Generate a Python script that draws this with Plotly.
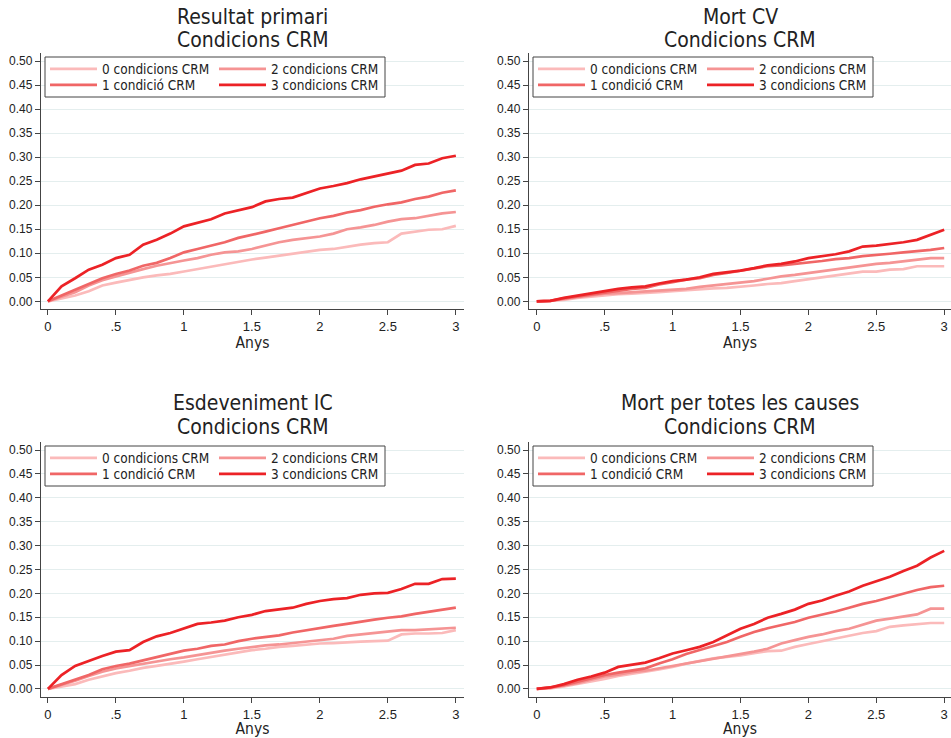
import plotly.graph_objects as go

# ---------------- data ----------------
anys = [0, 0.1, 0.2, 0.3, 0.4, 0.5, 0.6, 0.7, 0.8, 0.9, 1.0, 1.1, 1.2, 1.3, 1.4, 1.5,
        1.6, 1.7, 1.8, 1.9, 2.0, 2.1, 2.2, 2.3, 2.4, 2.5, 2.6, 2.7, 2.8, 2.9, 3.0]

series_labels = ["0 condicions CRM", "1 condició CRM", "2 condicions CRM", "3 condicions CRM"]
series_colors = ["#fbbaba", "#f06666", "#f59494", "#ec2226"]

title_line1 = ["Resultat primari", "Mort CV", "Esdeveniment IC", "Mort per totes les causes"]
title_line2 = ["Condicions CRM", "Condicions CRM", "Condicions CRM", "Condicions CRM"]

prim_0 = [0, 0.006, 0.012, 0.021, 0.033, 0.039, 0.045, 0.050, 0.054, 0.057, 0.062, 0.067, 0.073, 0.078, 0.083, 0.087,
          0.091, 0.095, 0.099, 0.104, 0.107, 0.109, 0.114, 0.118, 0.121, 0.123, 0.141, 0.145, 0.149, 0.150, 0.157]
prim_1 = [0, 0.012, 0.023, 0.035, 0.048, 0.057, 0.064, 0.074, 0.080, 0.090, 0.102, 0.109, 0.116, 0.123, 0.132, 0.138,
          0.145, 0.152, 0.159, 0.166, 0.173, 0.178, 0.185, 0.190, 0.197, 0.202, 0.206, 0.213, 0.218, 0.226, 0.231]
prim_2 = [0, 0.010, 0.019, 0.033, 0.044, 0.052, 0.060, 0.067, 0.074, 0.080, 0.085, 0.090, 0.097, 0.102, 0.104, 0.109,
          0.116, 0.123, 0.128, 0.132, 0.135, 0.141, 0.150, 0.154, 0.159, 0.166, 0.171, 0.173, 0.178, 0.183, 0.186]
prim_3 = [0, 0.031, 0.048, 0.066, 0.076, 0.090, 0.097, 0.118, 0.128, 0.141, 0.156, 0.164, 0.171, 0.183, 0.190, 0.196,
          0.208, 0.213, 0.216, 0.225, 0.235, 0.240, 0.246, 0.254, 0.260, 0.265, 0.272, 0.284, 0.287, 0.298, 0.303]

cv_0 = [0, 0.001, 0.003, 0.007, 0.010, 0.012, 0.015, 0.016, 0.017, 0.019, 0.021, 0.023, 0.026, 0.027, 0.028, 0.030,
        0.033, 0.036, 0.038, 0.042, 0.046, 0.050, 0.055, 0.059, 0.062, 0.062, 0.066, 0.067, 0.073, 0.073, 0.073]
cv_1 = [0, 0.001, 0.006, 0.010, 0.015, 0.019, 0.023, 0.026, 0.028, 0.035, 0.040, 0.045, 0.048, 0.055, 0.059, 0.064,
        0.068, 0.073, 0.075, 0.078, 0.080, 0.084, 0.088, 0.090, 0.094, 0.096, 0.099, 0.102, 0.104, 0.107, 0.111]
cv_2 = [0, 0.001, 0.005, 0.009, 0.012, 0.016, 0.017, 0.019, 0.021, 0.022, 0.024, 0.026, 0.030, 0.033, 0.035, 0.038,
        0.042, 0.047, 0.052, 0.055, 0.059, 0.062, 0.067, 0.071, 0.074, 0.078, 0.080, 0.083, 0.087, 0.090, 0.090]
cv_3 = [0, 0.001, 0.007, 0.012, 0.016, 0.021, 0.026, 0.029, 0.031, 0.037, 0.042, 0.045, 0.050, 0.057, 0.060, 0.064,
        0.069, 0.075, 0.078, 0.083, 0.090, 0.094, 0.098, 0.104, 0.114, 0.116, 0.119, 0.123, 0.128, 0.139, 0.149]

ic_0 = [0, 0.005, 0.010, 0.019, 0.026, 0.033, 0.038, 0.044, 0.048, 0.052, 0.057, 0.062, 0.067, 0.072, 0.076, 0.081,
        0.084, 0.088, 0.090, 0.093, 0.095, 0.096, 0.098, 0.099, 0.100, 0.101, 0.114, 0.116, 0.116, 0.117, 0.123]
ic_1 = [0, 0.010, 0.019, 0.029, 0.041, 0.048, 0.053, 0.060, 0.067, 0.074, 0.080, 0.084, 0.090, 0.093, 0.100, 0.105,
        0.109, 0.112, 0.118, 0.123, 0.127, 0.132, 0.136, 0.141, 0.145, 0.149, 0.152, 0.157, 0.161, 0.166, 0.170]
ic_2 = [0, 0.008, 0.017, 0.027, 0.036, 0.043, 0.048, 0.053, 0.058, 0.062, 0.066, 0.071, 0.075, 0.080, 0.084, 0.088,
        0.091, 0.093, 0.096, 0.098, 0.102, 0.105, 0.111, 0.114, 0.116, 0.120, 0.123, 0.123, 0.125, 0.126, 0.128]
ic_3 = [0, 0.029, 0.048, 0.059, 0.069, 0.078, 0.081, 0.098, 0.110, 0.117, 0.126, 0.136, 0.139, 0.143, 0.150, 0.155,
        0.163, 0.166, 0.170, 0.178, 0.184, 0.188, 0.190, 0.197, 0.200, 0.201, 0.209, 0.220, 0.220, 0.230, 0.231]

mort_0 = [0, 0.001, 0.005, 0.010, 0.015, 0.021, 0.027, 0.031, 0.036, 0.041, 0.046, 0.053, 0.059, 0.064, 0.067, 0.070,
          0.075, 0.079, 0.080, 0.088, 0.094, 0.100, 0.105, 0.112, 0.117, 0.121, 0.130, 0.133, 0.135, 0.138, 0.138]
mort_1 = [0, 0.003, 0.008, 0.015, 0.022, 0.029, 0.034, 0.038, 0.043, 0.053, 0.062, 0.073, 0.081, 0.090, 0.098, 0.109,
          0.119, 0.127, 0.133, 0.140, 0.149, 0.155, 0.162, 0.170, 0.178, 0.184, 0.192, 0.199, 0.207, 0.213, 0.216]
mort_2 = [0, 0.002, 0.007, 0.012, 0.019, 0.026, 0.030, 0.035, 0.038, 0.043, 0.048, 0.053, 0.058, 0.062, 0.067, 0.072,
          0.078, 0.084, 0.095, 0.102, 0.109, 0.114, 0.121, 0.126, 0.135, 0.143, 0.147, 0.152, 0.156, 0.168, 0.168]
mort_3 = [0, 0.003, 0.010, 0.019, 0.026, 0.034, 0.046, 0.051, 0.055, 0.064, 0.074, 0.081, 0.088, 0.098, 0.112, 0.126,
          0.136, 0.149, 0.157, 0.166, 0.178, 0.185, 0.195, 0.204, 0.216, 0.226, 0.235, 0.247, 0.258, 0.275, 0.289]

y_ticks = [0, 0.05, 0.10, 0.15, 0.20, 0.25, 0.30, 0.35, 0.40, 0.45, 0.50]
y_ticktext = ["0.00", "0.05", "0.10", "0.15", "0.20", "0.25", "0.30", "0.35", "0.40", "0.45", "0.50"]
x_ticks = [0, 0.5, 1, 1.5, 2, 2.5, 3]
x_ticktext = ["0", ".5", "1", "1.5", "2", "2.5", "3"]

panels = [[prim_0, prim_1, prim_2, prim_3], [cv_0, cv_1, cv_2, cv_3],
          [ic_0, ic_1, ic_2, ic_3], [mort_0, mort_1, mort_2, mort_3]]

# ---------------- layout geometry (pixels) ----------------
W, H = 951, 738
NARROW = "Liberation Sans Narrow, Arial Narrow, DejaVu Sans Condensed, sans-serif"
REG = "Liberation Sans, Arial, sans-serif"

boxes = [(41, 464, 53, 309), (529, 951, 53, 309), (41, 464, 442, 697), (529, 951, 442, 697)]
x_ranges = [[-0.051, 3.06], [-0.057, 3.05], [-0.051, 3.06], [-0.057, 3.05]]
y_ranges = [[-0.016, 0.517], [-0.016, 0.517], [-0.017, 0.517], [-0.017, 0.517]]
title_y = [(17, 40), (17, 40), (403, 427), (403, 427)]
legend_box = [(45, 57, 385, 97), (533, 57, 873, 97), (45, 446, 385, 486), (533, 446, 873, 486)]
# item offsets within legend box: (dx of sample line start, dy of row centre)
item_off = [(5, 12), (5, 28), (174, 12), (174, 28)]

fig = go.Figure()
draw_order = [0, 2, 1, 3]
layout = dict(width=W, height=H, margin=dict(l=0, r=0, t=0, b=0),
              paper_bgcolor="white", plot_bgcolor="white", showlegend=True)
annotations, shapes = [], []
leg_idx = 0
for p in range(4):
    sfx = "" if p == 0 else str(p + 1)
    l, r, t, b = boxes[p]
    bx0, by0, bx1, by1 = legend_box[p]
    for s in draw_order:
        leg_idx += 1
        lname = "legend" if leg_idx == 1 else "legend" + str(leg_idx)
        fig.add_trace(go.Scatter(
            x=anys, y=panels[p][s], mode="lines",
            name=series_labels[s],
            line=dict(color=series_colors[s], width=2.7),
            xaxis="x" + sfx, yaxis="y" + sfx,
            legend=lname, hoverinfo="skip",
        ))
        dx, dy = item_off[s]
        layout[lname] = dict(
            x=(bx0 + dx - 5) / W, y=1 - (by0 + dy) / H, xanchor="left", yanchor="middle",
            orientation="v", bgcolor="rgba(0,0,0,0)", borderwidth=0,
            font=dict(family=NARROW, size=13.5, color="#222"),
            itemwidth=47, tracegroupgap=0, itemclick=False, itemdoubleclick=False,
        )
    shapes.append(dict(type="rect", xref="paper", yref="paper",
                       x0=bx0 / W, x1=bx1 / W, y0=1 - by1 / H, y1=1 - by0 / H,
                       line=dict(color="#444", width=1), fillcolor="white", layer="above"))
    layout["xaxis" + sfx] = dict(
        domain=[l / W, r / W], range=x_ranges[p], anchor="y" + sfx, automargin=False,
        tickmode="array", tickvals=x_ticks, ticktext=x_ticktext,
        ticks="outside", ticklen=5, tickcolor="#444", showline=True, linecolor="#444", linewidth=1.3,
        showgrid=False, zeroline=False,
        tickfont=dict(family=REG, size=13, color="#222"),
        title=dict(text="Anys", font=dict(family=NARROW, size=15.5, color="#222"), standoff=0),
    )
    layout["yaxis" + sfx] = dict(
        domain=[1 - b / H, 1 - t / H], range=y_ranges[p], anchor="x" + sfx, automargin=False,
        tickmode="array", tickvals=y_ticks, ticktext=y_ticktext,
        ticks="outside", ticklen=5, tickcolor="#444", showline=True, linecolor="#444", linewidth=1.3,
        showgrid=True, gridcolor="#e4eeee", gridwidth=1, zeroline=False,
        tickfont=dict(family=REG, size=12, color="#222"),
    )
    cx = ((l + r) / 2) / W
    for txt, yy in zip([title_line1[p], title_line2[p]], title_y[p]):
        annotations.append(dict(
            text=txt, xref="paper", yref="paper", x=cx, y=1 - yy / H,
            xanchor="center", yanchor="middle", showarrow=False,
            font=dict(family=NARROW, size=21, color="#222"),
        ))
layout["annotations"] = annotations
layout["shapes"] = shapes
fig.update_layout(**layout)

fig.write_html("out.html", config={"displayModeBar": False},
               post_script="document.body.style.margin='0px';")
